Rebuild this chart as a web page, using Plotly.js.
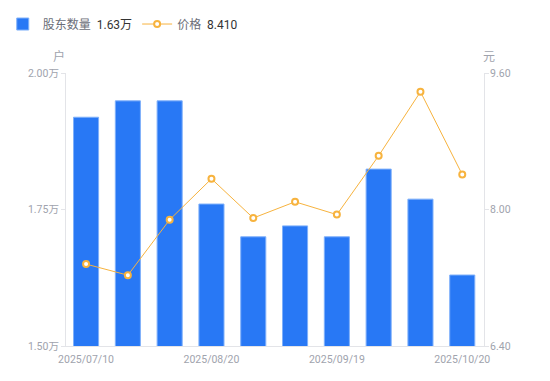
<!DOCTYPE html>
<html><head><meta charset="utf-8">
<script src="https://cdn.plot.ly/plotly-3.0.1.min.js"></script>
<style>html,body{margin:0;padding:0;background:#fff}#c{width:550px;height:381px}</style>
</head><body><div id="c"></div>
<script>
const dates = ["2025/07/10","2025/07/20","2025/07/31","2025/08/20","2025/08/29","2025/09/10","2025/09/19","2025/09/30","2025/10/10","2025/10/20"];
const holders = [1.919, 1.949, 1.949, 1.760, 1.700, 1.720, 1.700, 1.824, 1.769, 1.630];
const prices = [7.36, 7.23, 7.88, 8.36, 7.90, 8.09, 7.94, 8.63, 9.38, 8.41];
const shownTicks = ["2025/07/10","2025/08/20","2025/09/19","2025/10/20"];
const leftTicks = [1.5, 1.75, 2.0];
const leftTickText = ["1.50万","1.75万","2.00万"];
const rightTicks = [6.4, 8.0, 9.6];
const rightTickText = ["6.40","8.00","9.60"];

const font = "Roboto, Noto Sans CJK SC, sans-serif";
const gray = "#a0a3ad";
const traces = [
  {type:"bar", x:dates, y:holders, name:"股东数量&nbsp;&nbsp;<span style='color:#333'>1.63万</span>", width:0.6,
   marker:{color:"#2878f5", line:{color:"#7fb0fa", width:1}}, yaxis:"y", hoverinfo:"skip"},
  {type:"scatter", mode:"lines+markers", x:dates, y:prices, name:"价格&nbsp;&nbsp;<span style='color:#333'>8.410</span>", yaxis:"y2",
   line:{color:"#f7b33e", width:1}, marker:{size:6, color:"#fff", line:{color:"#f7b33e", width:2}}, hoverinfo:"skip"}
];
const layout = {
  width:550, height:381, margin:{l:66, r:66, t:73, b:35},
  paper_bgcolor:"#fff", plot_bgcolor:"#fff",
  font:{family:font, size:10.5, color:gray},
  showlegend:true,
  legend:{orientation:"h", x:0.005, xref:"container", y:0.975, yref:"container", yanchor:"top", xanchor:"left",
          font:{size:12, color:"#6b6e78", family:font}, itemwidth:30, tracegroupgap:0, traceorder:"normal"},
  xaxis:{type:"category", range:[-0.48, 9.52], tickmode:"array", tickvals:shownTicks, ticktext:shownTicks,
         showline:true, linecolor:"#e3e4e8", linewidth:1, showgrid:false, zeroline:false, ticks:"",
         ticklabelstandoff:3, tickfont:{size:10.5, color:gray}, fixedrange:true},
  yaxis:{range:[1.5,2.0], tickmode:"array", tickvals:leftTicks, ticktext:leftTickText,
         showline:true, linecolor:"#e3e4e8", showgrid:false, zeroline:false, ticks:"outside", ticklen:4, tickcolor:"#e3e4e8",
         tickfont:{size:10.5, color:gray}},
  yaxis2:{range:[6.4,9.6], overlaying:"y", side:"right", tickmode:"array", tickvals:rightTicks, ticktext:rightTickText,
          showline:true, linecolor:"#e3e4e8", showgrid:false, zeroline:false, ticks:"outside", ticklen:4, tickcolor:"#e3e4e8",
          ticklabelstandoff:-1, tickfont:{size:10.5, color:gray}},
  annotations:[
    {text:"户", xref:"paper", yref:"paper", x:-0.017, y:1.06, xanchor:"center", yanchor:"middle", showarrow:false, font:{size:12, color:gray}},
    {text:"元", xref:"paper", yref:"paper", x:1.013, y:1.06, xanchor:"center", yanchor:"middle", showarrow:false, font:{size:12, color:gray}}
  ]
};
Plotly.newPlot("c", traces, layout, {displayModeBar:false, staticPlot:true});
</script></body></html>
